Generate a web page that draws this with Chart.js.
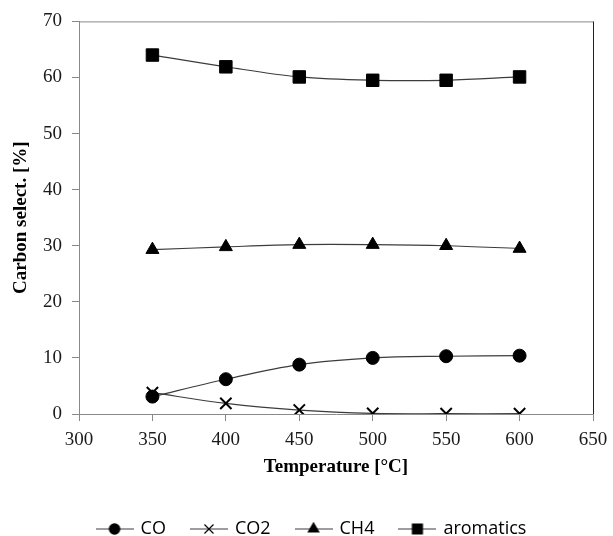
<!DOCTYPE html>
<html>
<head>
<meta charset="utf-8">
<script src="https://cdn.jsdelivr.net/npm/chart.js@4/dist/chart.umd.min.js"></script>
<style>
  html, body { margin: 0; padding: 0; background: #ffffff; }
  #wrap { width: 613px; height: 536px; position: relative; }
</style>
</head>
<body>
<div id="wrap"><canvas id="c" width="613" height="536"></canvas></div>
<script>
// ---- data ----
const temperatures = [350, 400, 450, 500, 550, 600];
const seriesNames = ['CO', 'CO2', 'CH4', 'aromatics'];
const coValues = [3.1, 6.2, 8.8, 10.0, 10.3, 10.4];
const co2Values = [3.8, 1.9, 0.7, 0.1, 0.05, 0.05];
const ch4Values = [29.3, 29.8, 30.2, 30.2, 30.0, 29.5];
const aromaticsValues = [64.0, 61.9, 60.1, 59.5, 59.5, 60.1];
const xTickValues = [300, 350, 400, 450, 500, 550, 600, 650];
const yTickValues = [0, 10, 20, 30, 40, 50, 60, 70];
const xTitle = 'Temperature [\u00B0C]';
const yTitle = 'Carbon select. [%]';

// ---- styles ----
const LINE_COLOR = '#3c3c3c';
const AXIS_COLOR = '#898989';
const MARK_COLOR = '#000000';
const styles = [
  { pointStyle: 'circle', radius: 6.5, bw: 1 },
  { pointStyle: 'crossRot', radius: 8, bw: 2 },
  { pointStyle: 'triangle', radius: 7.5, bw: 1 },
  { pointStyle: 'rect', radius: 8.8, bw: 1 }
];
const valueLists = [coValues, co2Values, ch4Values, aromaticsValues];

function toPoints(vals) {
  return temperatures.map((t, i) => ({ x: t, y: vals[i] }));
}

// legend images: short line with marker in the middle
function legendImage(style) {
  const w = 38, h = 18;
  const cv = document.createElement('canvas');
  cv.width = w; cv.height = h;
  const g = cv.getContext('2d');
  g.strokeStyle = LINE_COLOR; g.lineWidth = 1.2;
  g.beginPath(); g.moveTo(0, h / 2); g.lineTo(w, h / 2); g.stroke();
  g.fillStyle = MARK_COLOR; g.strokeStyle = MARK_COLOR;
  Chart.helpers.drawPoint(g, {
    pointStyle: style.pointStyle,
    radius: style.radius * 0.8,
    rotation: 0,
    borderWidth: 1
  }, w / 2, h / 2);
  return cv;
}

const datasets = seriesNames.map((name, i) => ({
  label: name,
  data: toPoints(valueLists[i]),
  borderColor: LINE_COLOR,
  borderWidth: 1.2,
  tension: 0.35,
  pointStyle: styles[i].pointStyle,
  pointRadius: styles[i].radius,
  pointHoverRadius: styles[i].radius,
  pointBackgroundColor: MARK_COLOR,
  pointBorderColor: MARK_COLOR,
  pointBorderWidth: styles[i].bw,
  fill: false
}));

const frameBorder = {
  id: 'frameBorder',
  afterDatasetsDraw(chart) {
    const { ctx, chartArea: a } = chart;
    ctx.save();
    ctx.lineWidth = 1;
    ctx.strokeStyle = AXIS_COLOR;
    ctx.beginPath();
    ctx.moveTo(a.left, a.top + 0.5); ctx.lineTo(a.right, a.top + 0.5);
    ctx.stroke();
    ctx.strokeStyle = '#222222';
    ctx.beginPath();
    ctx.moveTo(a.right + 0.5, a.top); ctx.lineTo(a.right + 0.5, a.bottom);
    ctx.stroke();
    ctx.restore();
  }
};

const serif = "'Liberation Serif', 'Times New Roman', serif";

new Chart(document.getElementById('c'), {
  type: 'line',
  data: { datasets },
  plugins: [frameBorder],
  options: {
    responsive: false,
    animation: false,
    layout: { padding: { top: 21, right: 0, left: 11, bottom: -12 } },
    plugins: {
      legend: {
        position: 'bottom',
        labels: {
          usePointStyle: true,
          pointStyleWidth: 34,
          padding: 26,
          color: '#222222',
          font: { family: "'Open Sans', 'Liberation Sans', sans-serif", size: 18 },
          generateLabels(chart) {
            return chart.data.datasets.map((ds, i) => ({
              text: ds.label,
              pointStyle: legendImage(styles[i]),
              fillStyle: MARK_COLOR,
              strokeStyle: MARK_COLOR,
              lineWidth: 0,
              hidden: false,
              datasetIndex: i
            }));
          }
        }
      },
      tooltip: { enabled: false }
    },
    scales: {
      x: {
        type: 'linear',
        min: 300, max: 650,
        afterFit(s) { s.height = 80; s.paddingLeft = 0; s.paddingRight = 0; },
        afterBuildTicks(s) { s.ticks = xTickValues.map(v => ({ value: v })); },
        ticks: { color: '#1a1a1a', font: { family: serif, size: 19 }, padding: 8, maxRotation: 0 },
        grid: { display: true, drawOnChartArea: false, drawTicks: true, tickLength: 7, color: AXIS_COLOR },
        border: { display: true, color: AXIS_COLOR, width: 1 },
        title: { display: true, text: xTitle, color: '#000', font: { family: serif, size: 19, weight: 'bold' }, padding: { top: 0, bottom: 16 } }
      },
      y: {
        type: 'linear',
        min: 0, max: 70,
        afterFit(s) { s.width = 68; },
        afterBuildTicks(s) { s.ticks = yTickValues.map(v => ({ value: v })); },
        ticks: { color: '#1a1a1a', font: { family: serif, size: 19 }, padding: 10 },
        grid: { display: true, drawOnChartArea: false, drawTicks: true, tickLength: 7, color: AXIS_COLOR },
        border: { display: true, color: AXIS_COLOR, width: 1 },
        title: { display: true, text: yTitle, color: '#000', font: { family: serif, size: 19, weight: 'bold' }, padding: { top: -1, bottom: 0 } }
      },
      yRight: {
        type: 'linear',
        position: 'right',
        min: 0, max: 70,
        display: true,
        afterFit(s) { s.width = 20; },
        ticks: { display: false },
        grid: { display: false },
        border: { display: false }
      }
    }
  }
});
</script>
</body>
</html>
